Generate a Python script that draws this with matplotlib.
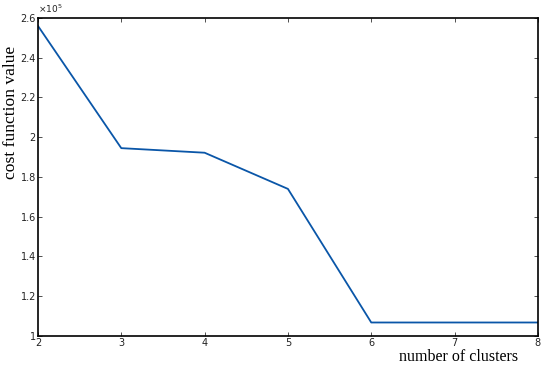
import matplotlib.pyplot as plt
from matplotlib.ticker import MultipleLocator

# ---------------- DATA ----------------

clusters = [2, 3, 4, 5, 6, 7, 8]
cost_values = [2.56e5, 1.945e5, 1.922e5, 1.74e5, 1.068e5, 1.068e5, 1.068e5]

# ---------------- FIGURE ----------------

fig = plt.figure(figsize=(5.5, 3.69), dpi=100)
ax = fig.add_axes([0.069, 0.0894, 0.909, 0.862])

ax.plot(clusters, [v / 1e5 for v in cost_values], color='#0a56a8', linewidth=1.3)

ax.set_xlim(2, 8)
ax.set_ylim(1, 2.6)
ax.xaxis.set_major_locator(MultipleLocator(1))
ax.yaxis.set_major_locator(MultipleLocator(0.2))
ax.yaxis.set_major_formatter(plt.FuncFormatter(lambda v, p: f"{v:g}"))

ax.tick_params(direction='in', top=True, right=True, length=3, width=0.6,
               labelsize=7, colors='#333333', pad=1.5)
ax.tick_params(labelcolor='#222222')
for s in ax.spines.values():
    s.set_linewidth(1.2)
    s.set_color('black')

# exponent label
ax.text(0.0, 1.008, r"$\times10^5$", transform=ax.transAxes, fontsize=6.5,
        ha='left', va='bottom', color='#222222')

# axis labels placed like the original export
fig.text(0.725, 0.022, "number of clusters", family='Liberation Serif',
         fontsize=11.5, ha='left', va='baseline')
fig.text(0.020, 0.696, "cost function value", family='Liberation Serif',
         fontsize=12.6, ha='center', va='center', rotation=90)

fig.savefig("out.png", dpi=100)
